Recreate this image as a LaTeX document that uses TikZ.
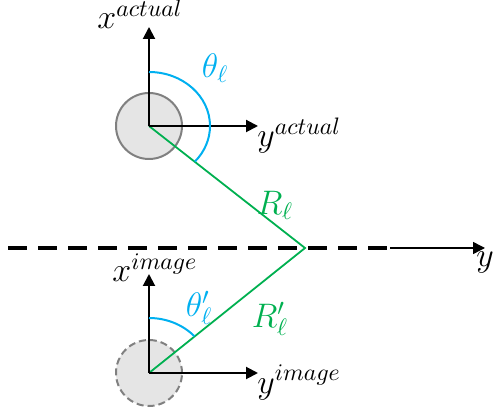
\RequirePackage{fix-cm}
\documentclass[tikz,border=0pt]{standalone}
\usetikzlibrary{arrows.meta}
\definecolor{arcblue}{HTML}{00B0F0}
\definecolor{raygreen}{HTML}{00B050}
\begin{document}
\begin{tikzpicture}[x=0.5pt,y=0.5pt,
  axis/.style={line width=1pt,-{Triangle[length=6pt,width=6pt]}},
  lbl/.style={inner sep=0pt,font=\fontsize{17}{20}\selectfont},
  obj/.style={circle,draw=black!50,line width=1pt,fill=black!10,minimum size=33pt,inner sep=0pt}]
\useasboundingbox (0,0) rectangle (496,411);
% centres and reflection point
\coordinate (A) at (149,285);
\coordinate (B) at (149,38);
\coordinate (P) at (305,163);
\coordinate (AX) at (149,384);
\coordinate (AY) at (258,285);
\coordinate (BX) at (149,137);
\coordinate (BY) at (258,38);
\coordinate (D0) at (8,163);
\coordinate (D1) at (390,163);
\coordinate (D2) at (485,163);
\coordinate (TA) at (149,339);
\coordinate (TB) at (149,93);
% objects
\node[obj] (ca) at (A) {};
\node[obj,dash pattern=on 3.5pt off 2pt] (cb) at (B) {};
% mirror line
\draw[line width=2pt,dash pattern=on 9.5pt off 5.5pt] (D0) -- (D1);
\draw[axis,line width=0.7pt] (D1) -- (D2);
\node[lbl] (ylab) at (485,149) {$y$};
% rays
\draw[raygreen,line width=0.9pt] (A) -- (P) -- (B);
% axes
\draw[axis] (A) -- (AX);
\draw[axis] (A) -- (AY);
\draw[axis] (B) -- (BX);
\draw[axis] (B) -- (BY);
% angle arcs
\draw[arcblue,line width=1pt] (TA) arc[start angle=90,end angle=-41.2,x radius=61,y radius=54];
\draw[arcblue,line width=1pt] (TB) arc[start angle=90,end angle=41.9,x radius=61,y radius=55];
% labels
\node[lbl,anchor=base west] (xa) at (97,382) {$x^{actual}$};
\node[lbl,anchor=base west] (ya) at (257,264) {$y^{actual}$};
\node[lbl,anchor=base west] (xi) at (112,129) {$x^{image}$};
\node[lbl,anchor=base west] (yi) at (257,18) {$y^{image}$};
\node[lbl,text=arcblue] (th) at (215,343) {$\theta_\ell$};
\node[lbl,text=arcblue] (thp) at (199,103) {$\theta'_\ell$};
\node[lbl,text=raygreen] (R) at (275,206) {$R_\ell$};
\node[lbl,text=raygreen] (Rp) at (270,92) {$R'_\ell$};
\end{tikzpicture}
\end{document}
